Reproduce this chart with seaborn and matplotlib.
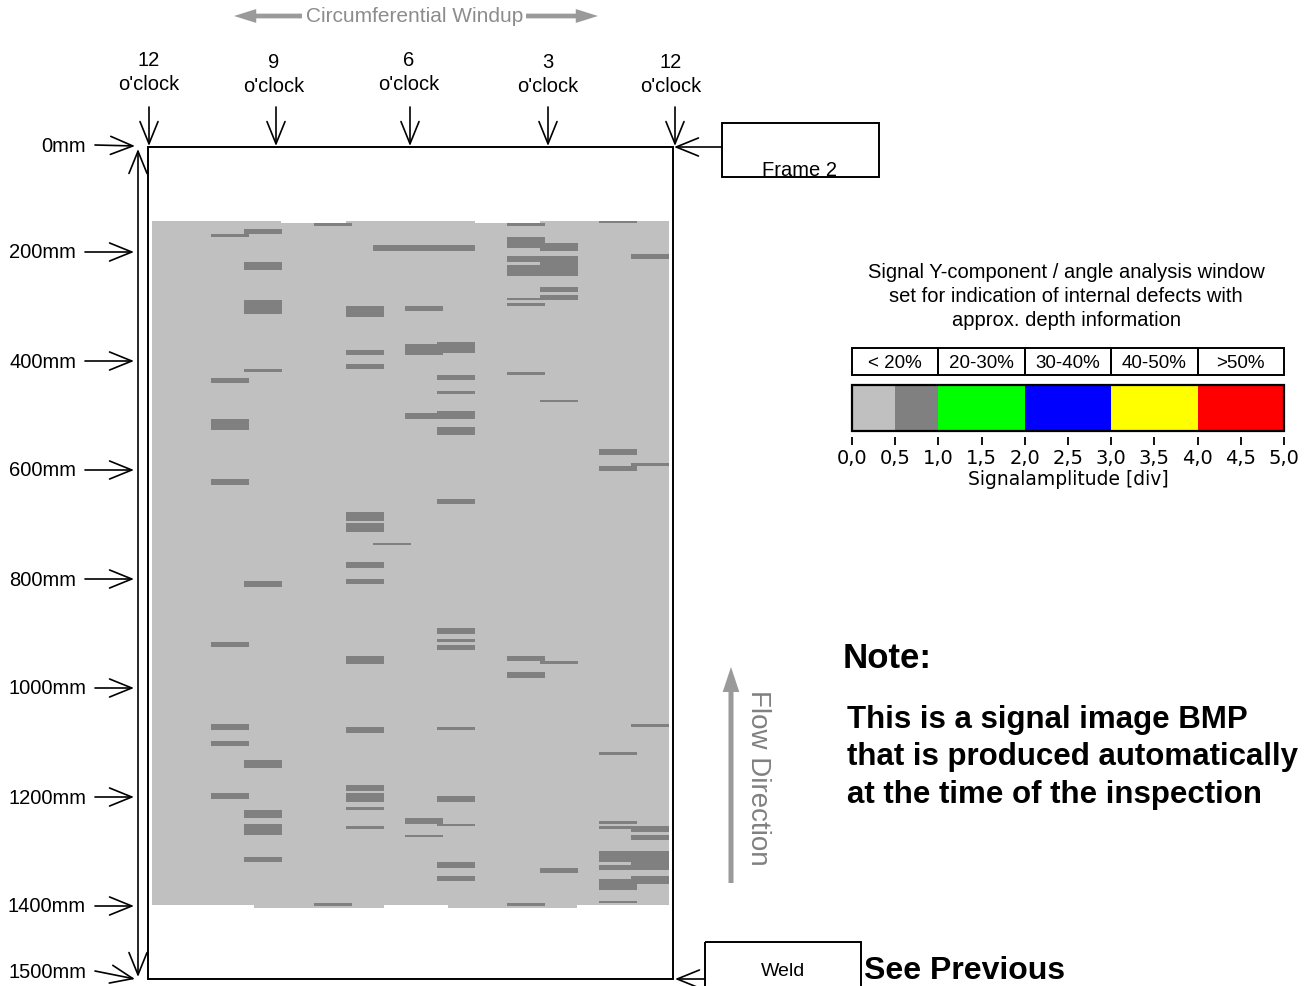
import numpy as np
import matplotlib
matplotlib.use("Agg")
import matplotlib.pyplot as plt
import seaborn as sns
from matplotlib.colors import ListedColormap
from matplotlib.patches import Rectangle

# ---- legend: signal amplitude classes (div) ----
AMP_EDGES = [0.0, 0.5, 1.0, 2.0, 3.0, 4.0, 5.0]
AMP_COLORS = ["#c0c0c0", "#808080", "#00ff00", "#0000ff", "#ffff00", "#ff0000"]
AMP_TICKS = [0.0, 0.5, 1.0, 1.5, 2.0, 2.5, 3.0, 3.5, 4.0, 4.5, 5.0]
DEPTH_CLASSES = ["< 20%", "20-30%", "30-40%", "40-50%", ">50%"]
DEPTH_EDGES = [0, 1, 2, 3, 4, 5]

# ---- scanned area (circumferential deg, axial mm) ----
SCAN_DEG = [3, 357]
SCAN_MM = [147, 1398]
# small steps along the top / bottom edge of the scan
EDGE_DEG0 = [3, 136, 269, 73, 206]
EDGE_DEG1 = [91, 224, 357, 162, 294]
EDGE_MM0 = [143, 143, 143, 1398, 1398]
EDGE_MM1 = [147, 147, 147, 1404, 1404]

BASE_AMP = 0.25       # background signal, < 0.5 div
IND_AMP = 0.75        # indications, 0.5 - 1.0 div

# sensor tracks: start angle (deg) and width (deg)
TRACK_DEG = [43, 66, 114, 136, 154, 176, 198, 246, 269, 309, 331]
TRACK_WIDTH = 26

# indications per track: (start mm, end mm)
IND_T1 = [(167, 172), (431, 440), (506, 527), (617, 628), (916, 925),
          (1066, 1077), (1097, 1107), (1193, 1204)]
IND_T2 = [(158, 167), (218, 233), (288, 314), (415, 420), (804, 815),
          (1132, 1147), (1224, 1239), (1250, 1270), (1310, 1319)]
IND_T3 = [(147, 152), (1395, 1400)]
IND_T4 = [(299, 319), (380, 389), (406, 415), (677, 694), (697, 714),
          (769, 780), (800, 809), (941, 956), (1072, 1083), (1178, 1189),
          (1193, 1209), (1218, 1224), (1253, 1259)]
IND_T5 = [(187, 198), (734, 738)]
IND_T6 = [(187, 198), (299, 308), (369, 389), (495, 506), (1239, 1250),
          (1270, 1273)]
IND_T7 = [(187, 198), (365, 385), (426, 435), (455, 461), (492, 506),
          (521, 536), (653, 662), (890, 901), (910, 916), (921, 930),
          (1072, 1077), (1198, 1209), (1250, 1253), (1319, 1330), (1345, 1354)]
IND_T8 = [(147, 152), (172, 193), (207, 218), (224, 244), (284, 288),
          (294, 299), (420, 426), (941, 950), (971, 982), (1395, 1400)]
IND_T9 = [(183, 198), (207, 244), (264, 273), (279, 288), (472, 475),
          (950, 956), (1330, 1340)]
IND_T10 = [(143, 147), (561, 572), (593, 602), (1117, 1123), (1244, 1250),
           (1253, 1259), (1299, 1319), (1325, 1334), (1350, 1371), (1391, 1394)]
IND_T11 = [(204, 213), (587, 593), (1066, 1072), (1253, 1264), (1270, 1279),
           (1299, 1334), (1345, 1360)]
TRACK_INDICATIONS = [IND_T1, IND_T2, IND_T3, IND_T4, IND_T5, IND_T6,
                     IND_T7, IND_T8, IND_T9, IND_T10, IND_T11]

MM_TICKS = [0, 200, 400, 600, 800, 1000, 1200, 1400, 1500]
CLOCK_LABELS = ["12", "9", "6", "3", "12"]

# ---- page geometry (pixels) ----
W, H = 1309, 987
X0, PX_PER_DEG = 148, 525 / 360
Y0, PX_PER_MM = 144, 0.545
FRAME = (148, 148, 673, 980)


def px_x(deg):
    return X0 + deg * PX_PER_DEG


def px_y(mm):
    return Y0 + mm * PX_PER_MM


def fig_rect(x0, y0, x1, y1):
    return [x0 / W, 1 - y1 / H, (x1 - x0) / W, (y1 - y0) / H]


# colour map with 0.5 div steps built from the legend classes
step_colors = []
for lo, hi, c in zip(AMP_EDGES[:-1], AMP_EDGES[1:], AMP_COLORS):
    step_colors += [c] * int(round((hi - lo) / 0.5))
cmap = ListedColormap(step_colors)

# ---- build the signal image grid ----
deg_bins = np.arange(min(EDGE_DEG0 + SCAN_DEG[:1]), max(EDGE_DEG1 + SCAN_DEG[1:]))
mm_bins = np.arange(min(EDGE_MM0), max(EDGE_MM1))
grid = np.full((len(mm_bins), len(deg_bins)), np.nan)
D, M = np.meshgrid(deg_bins, mm_bins)


def fill(d0, d1, m0, m1, val):
    grid[(D >= d0) & (D < d1) & (M >= m0) & (M < m1)] = val


fill(SCAN_DEG[0], SCAN_DEG[1], SCAN_MM[0], SCAN_MM[1], BASE_AMP)
for d0, d1, m0, m1 in zip(EDGE_DEG0, EDGE_DEG1, EDGE_MM0, EDGE_MM1):
    fill(d0, d1, m0, m1, BASE_AMP)
for t0, inds in zip(TRACK_DEG, TRACK_INDICATIONS):
    for m0, m1 in inds:
        fill(t0, t0 + TRACK_WIDTH, m0, m1, IND_AMP)

sns.set_style("white")
plt.rcParams["font.family"] = ["Liberation Sans", "DejaVu Sans"]
plt.rcParams["text.color"] = "black"
plt.rcParams["axes.labelcolor"] = "black"
plt.rcParams["xtick.color"] = "black"

fig = plt.figure(figsize=(W / 100, H / 100), dpi=100)
ax = fig.add_axes([0, 0, 1, 1])
ax.set_xlim(0, W)
ax.set_ylim(H, 0)
ax.axis("off")

# signal image
ax_map = fig.add_axes(fig_rect(px_x(deg_bins[0]), px_y(mm_bins[0]),
                               px_x(deg_bins[-1] + 1), px_y(mm_bins[-1] + 1)))
sns.heatmap(grid, cmap=cmap, vmin=0, vmax=5, cbar=False,
            xticklabels=False, yticklabels=False, ax=ax_map, rasterized=True)
ax_map.set_xticks([])
ax_map.set_yticks([])

open_arrow = dict(arrowstyle="->,head_length=1.6,head_width=0.65", lw=1.2,
                  color="black", shrinkA=0, shrinkB=0, mutation_scale=10)
gray_arrow = dict(arrowstyle="simple,head_length=1.6,head_width=1.0,tail_width=0.34",
                  color="#9a9a9a", shrinkA=0, shrinkB=0, mutation_scale=10, lw=0)

# frame
fx0, fy0, fx1, fy1 = FRAME
ax.add_patch(Rectangle((fx0, fy0), fx1 - fx0, fy1 - fy0, fill=False, ec="black", lw=1.4))

# circumferential windup
ax.text(415, 17, "Circumferential Windup", ha="center", va="center",
        fontsize=15, color="#8c8c8c")
ax.annotate("", xy=(234, 17), xytext=(302, 17), arrowprops=gray_arrow)
ax.annotate("", xy=(598, 17), xytext=(526, 17), arrowprops=gray_arrow)

# clock positions
clock_x = [149, 274, 409, 548, 671]
clock_y = [60, 62, 60, 62, 62]
arrow_x = [149, 276, 410, 548, 675]
for lab, cx, cy, axx in zip(CLOCK_LABELS, clock_x, clock_y, arrow_x):
    ax.text(cx, cy, lab, ha="center", va="center", fontsize=14.5)
    ax.text(cx, cy + 25, "o'clock", ha="center", va="center", fontsize=14.5)
    ax.annotate("", xy=(axx, 147), xytext=(axx, 108), arrowprops=open_arrow)

# axial distance labels
ax.annotate("", xy=(138, 150), xytext=(138, 978),
            arrowprops=dict(open_arrow, arrowstyle="<->,head_length=1.6,head_width=0.65"))
for mm in MM_TICKS:
    if mm == 0:
        ty, tip, x_start, x_end = 146, 147, 95, 135
    elif mm == 1500:
        ty, tip, x_start, x_end = 972, 980, 95, 135
    else:
        ty = tip = px_y(mm)
        x_start, x_end = (85, 134) if mm < 1000 else (95, 134)
    ax.text(x_start - 9, ty, f"{mm}mm", ha="right", va="center", fontsize=14.5)
    ax.annotate("", xy=(x_end, tip), xytext=(x_start, ty), arrowprops=open_arrow)

# frame / weld boxes
ax.add_patch(Rectangle((722, 124), 157, 54, fill=False, ec="black", lw=1.4))
ax.text(800, 170, "Frame 2", ha="center", va="center", fontsize=14.5)
ax.annotate("", xy=(674, 148), xytext=(722, 148), arrowprops=open_arrow)
ax.add_patch(Rectangle((705, 943), 156, 80, fill=False, ec="black", lw=1.4))
ax.text(783, 971, "Weld", ha="center", va="center", fontsize=14)
ax.annotate("", xy=(675, 980), xytext=(705, 980), arrowprops=open_arrow)
ax.text(864, 979, "See Previous", ha="left", va="baseline", fontsize=23,
        fontweight="bold")

# flow direction
ax.annotate("", xy=(731, 668), xytext=(731, 884),
            arrowprops=dict(gray_arrow, arrowstyle="simple,head_length=1.8,head_width=1.2,tail_width=0.36"))
ax.text(758, 778, "Flow Direction", rotation=-90, ha="center", va="center",
        fontsize=20, color="#808080")

# note
ax.text(843, 658, "Note:", ha="left", va="center", fontsize=25, fontweight="bold")
for i, line in enumerate(["This is a signal image BMP",
                          "that is produced automatically",
                          "at the time of the inspection"]):
    ax.text(847, 720 + i * 37.5, line, ha="left", va="center", fontsize=22.5,
            fontweight="bold")

# legend title
for i, line in enumerate(["Signal Y-component / angle analysis window",
                          "set for indication of internal defects with",
                          "approx. depth information"]):
    ax.text(1066, 272 + i * 24.5, line, ha="center", va="center", fontsize=14.5)

# legend depth classes
BX0, BX1 = 852, 1284
amp_x = lambda a: BX0 + a * (BX1 - BX0) / AMP_EDGES[-1]
for lab, a0, a1 in zip(DEPTH_CLASSES, DEPTH_EDGES[:-1], DEPTH_EDGES[1:]):
    ax.add_patch(Rectangle((amp_x(a0), 349), amp_x(a1) - amp_x(a0), 27,
                           fill=False, ec="black", lw=1.4))
    ax.text((amp_x(a0) + amp_x(a1)) / 2, 363, lab, ha="center", va="center",
            fontsize=13.5)

# legend colour bar
ax_bar = fig.add_axes(fig_rect(BX0, 386, BX1, 432))
amps = np.arange(AMP_EDGES[0] + 0.25, AMP_EDGES[-1], 0.5)
sns.heatmap(amps.reshape(1, -1), cmap=cmap, vmin=0, vmax=5, cbar=False,
            xticklabels=False, yticklabels=False, ax=ax_bar)
ax_bar.spines["bottom"].set_position(("outward", 4))
ax_bar.set_xticks(np.array(AMP_TICKS) / 0.5)
ax_bar.set_xticklabels([f"{t:.1f}".replace(".", ",") for t in AMP_TICKS])
ax_bar.set_yticks([])
ax_bar.tick_params(axis="x", bottom=True, length=6, width=1.3, color="black",
                   direction="out", pad=2, labelcolor="black", labelsize=14,
                   labelfontfamily="DejaVu Sans")
ax_bar.set_xlabel("Signalamplitude [div]", fontsize=13.5, family="DejaVu Sans",
                  labelpad=2)
ax_bar.add_patch(Rectangle((0, 0), 1, 1, transform=ax_bar.transAxes, fill=False,
                           ec="black", lw=1.6, clip_on=False))

fig.savefig("out.png", dpi=100)
